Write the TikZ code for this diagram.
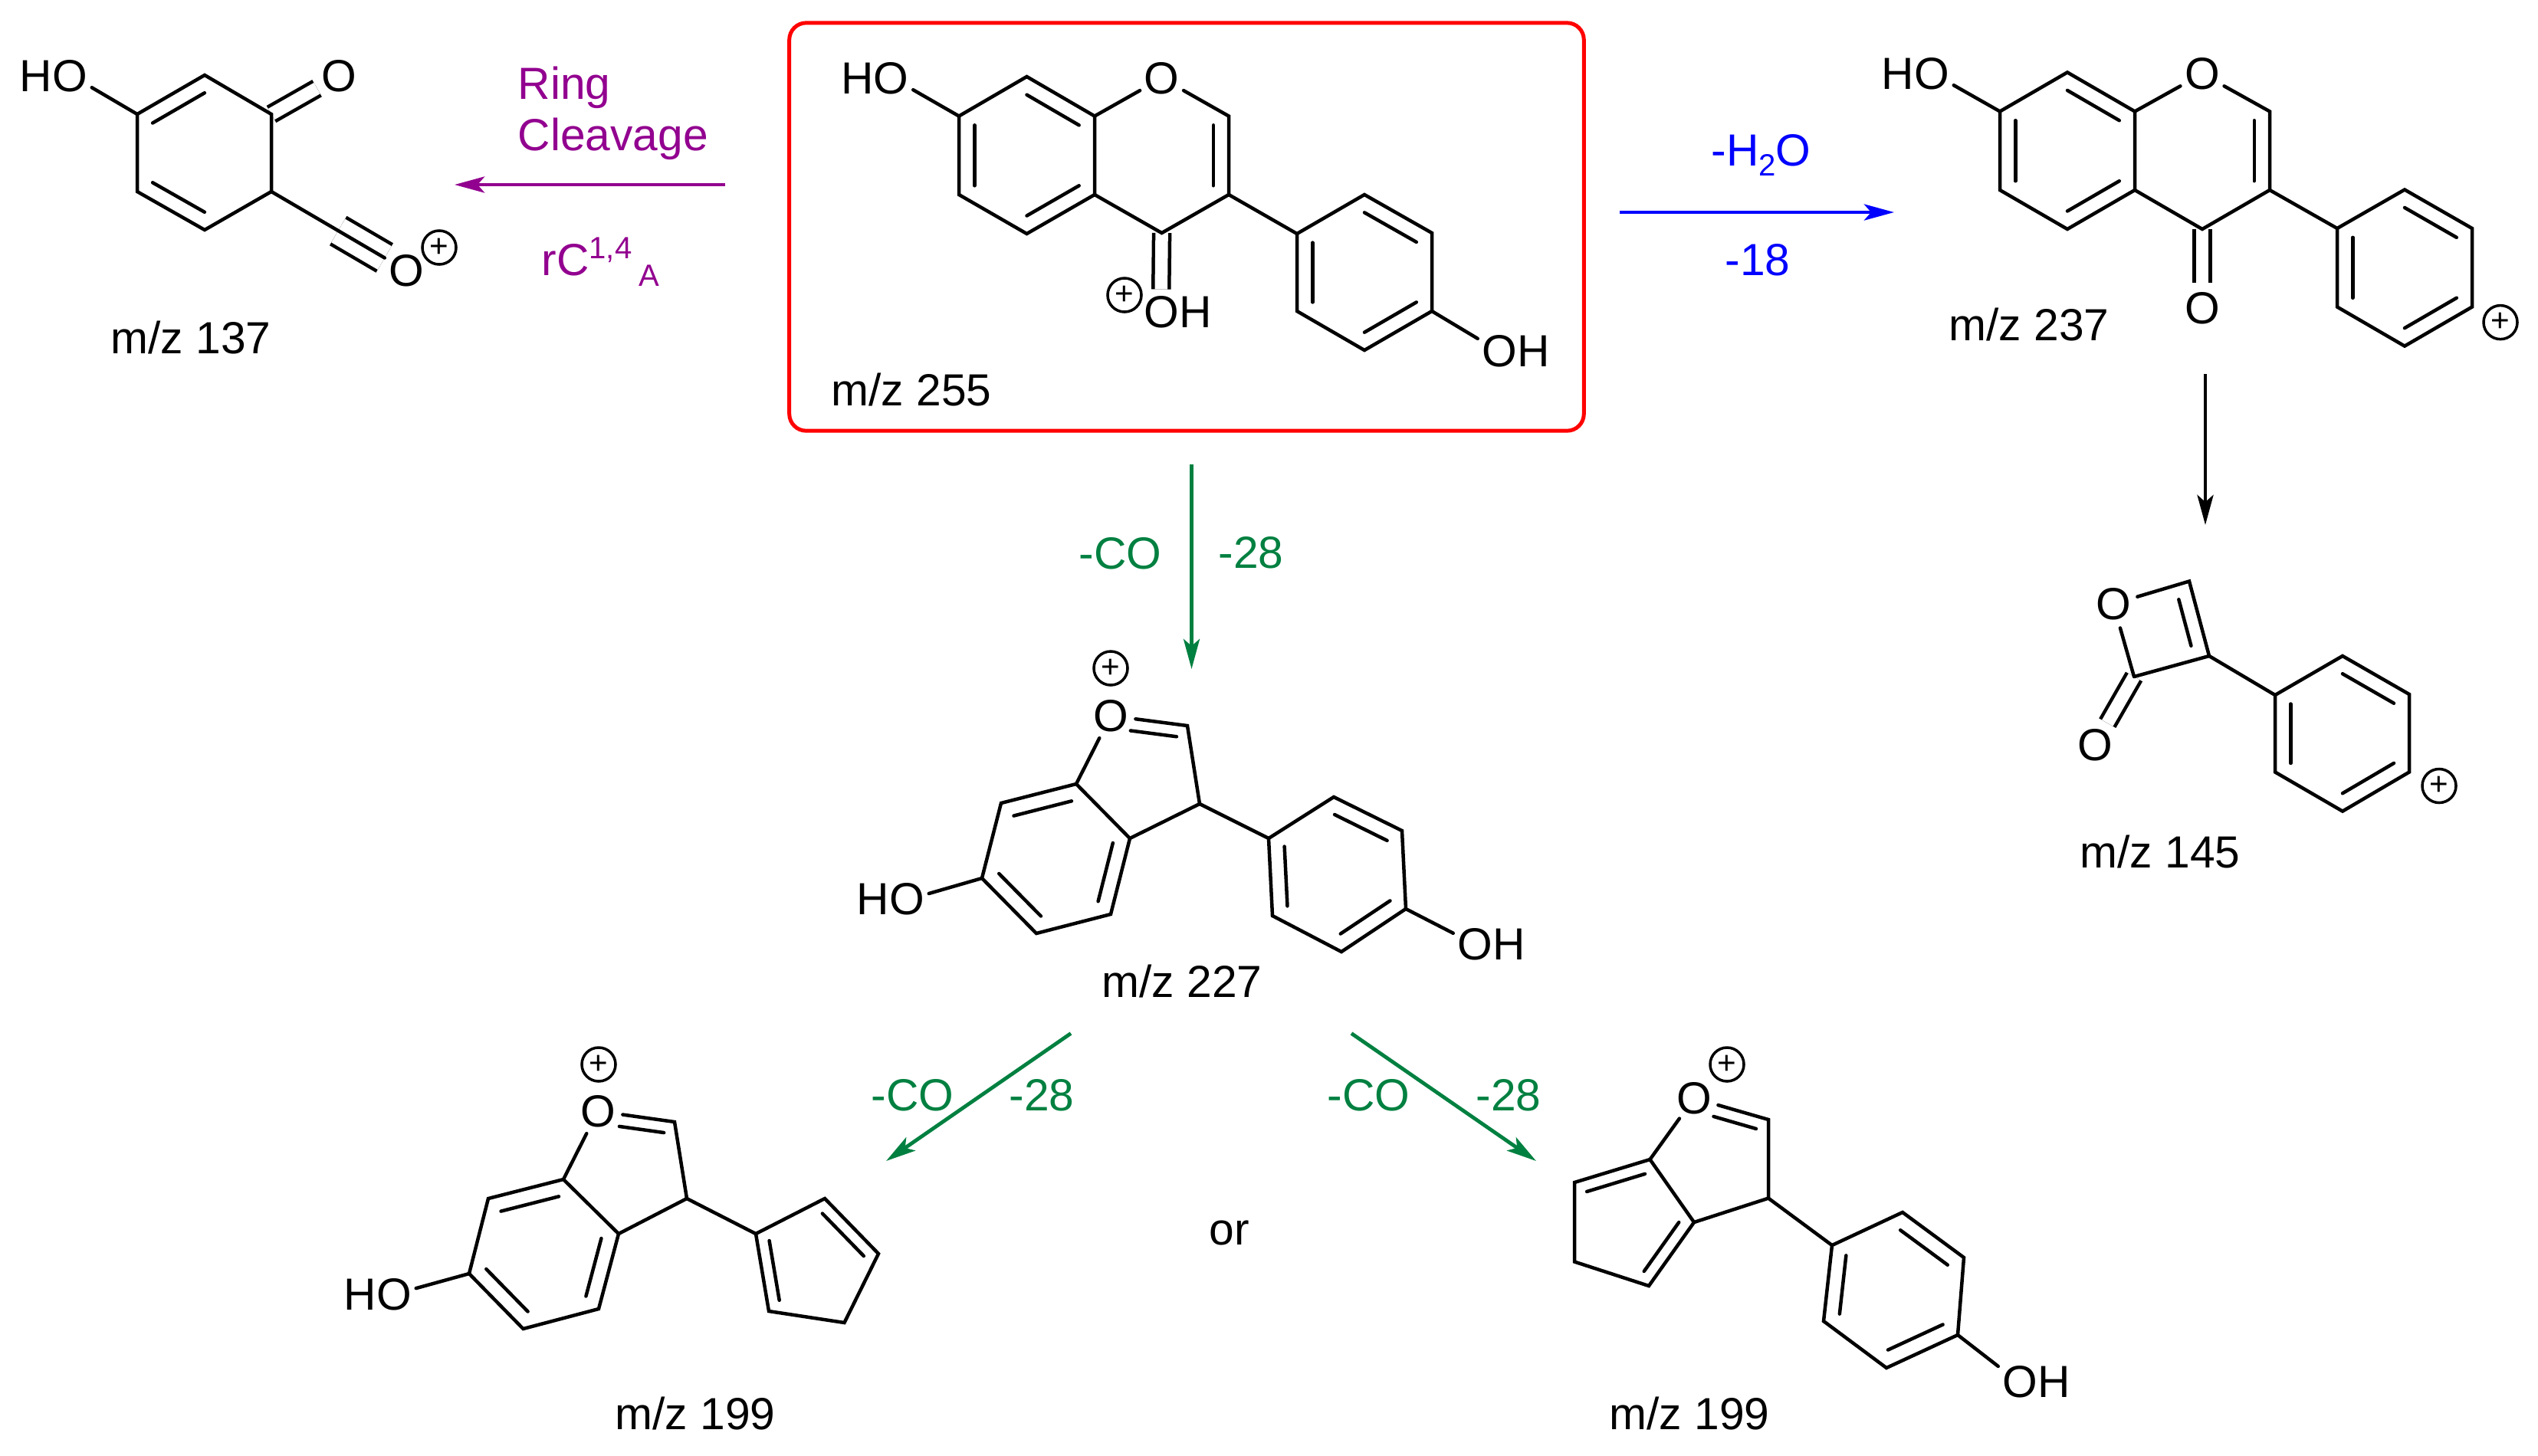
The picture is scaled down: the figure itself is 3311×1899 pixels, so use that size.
\documentclass[tikz,border=0pt]{standalone}
\usepackage{fontspec}
\setmainfont{Liberation Sans}
\usetikzlibrary{calc,arrows.meta}
\definecolor{ringcol}{RGB}{146,0,143}
\definecolor{cogreen}{RGB}{0,128,64}
\tikzset{
  bond/.style={line width=.045cm,line cap=round},
  dbond/.style={bond,line cap=butt,double,double distance=.165cm},
  tbond/.style={bond,line cap=butt,double,double distance=.355cm,shorten <=1.01cm},
  atom/.style={circle,inner sep=0,minimum size=.64cm,font=\fontsize{16.7}{19}\selectfont},
  group/.style={inner xsep=.05cm,inner ysep=.08cm,font=\fontsize{16.7}{19}\selectfont},
  lab/.style={inner sep=0,anchor=base west,font=\fontsize{16.7}{19}\selectfont},
  plus/.style={circle,draw,line width=.035cm,inner sep=0,minimum size=.44cm,font=\fontsize{12}{12}\selectfont},
  arr/.style={line width=.048cm,-{Stealth[length=.39cm,width=.21cm,inset=.09cm]}},
}
\newcommand{\inbond}[3]{\draw[bond] ($(#1)!.77!(#2)$) -- ($(#1)!.77!(#3)$);}
\newcommand{\smalltxt}[2]{\raisebox{#1}{\fontsize{11.4}{13}\selectfont #2}}
\begin{document}
\begin{tikzpicture}[x=.01cm,y=-.01cm]
  \useasboundingbox (0,0) rectangle (3311,1899);

  % Box round the parent ion
  \node[draw=red,line width=.05cm,rounded corners=.22cm,minimum width=10.36cm,minimum height=5.32cm] (box) at (1548,296) {};

  % m/z 255
  \coordinate (p1) at (1251,151.5);
  \coordinate (p2) at (1339.5,100);
  \coordinate (p3) at (1428,151.5);
  \coordinate (p4) at (1428,254);
  \coordinate (p5) at (1339.5,305);
  \coordinate (p6) at (1251,254);
  \coordinate (p7) at (1603,151.5);
  \coordinate (p8) at (1603,254);
  \coordinate (p9) at (1515.6,304);
  \coordinate (p11) at (1692,305);
  \coordinate (p12) at (1780,254);
  \coordinate (p13) at (1868,304);
  \coordinate (p14) at (1868,406);
  \coordinate (p15) at (1780,457);
  \coordinate (p16) at (1692,406);
  \coordinate (pa) at (1339.5,203);
  \coordinate (pb) at (1515.6,203);
  \coordinate (pc) at (1780,355.5);
  \node[atom] (pO) at (1515.6,102) {O};
  \node[group] (pHO) at (1141.5,102) {HO};
  \node[group] (pOH) at (1537,407) {OH};
  \node[group] (pOHb) at (1977.5,458) {OH};
  \node[plus] (pplus) at (1467,385) {+};
  \node[lab] (pmz) at (1084,529) {m/z 255};
  \draw[dbond] (p9) -- (pOH.127);
  \draw[bond] (p1) -- (p2) -- (p3) -- (p4) -- (p5) -- (p6) -- cycle;
  \draw[bond] (p3) -- (pO) -- (p7) -- (p8) -- (p9) -- (p4);
  \draw[bond] (p8) -- (p11);
  \draw[bond] (p11) -- (p12) -- (p13) -- (p14) -- (p15) -- (p16) -- cycle;
  \draw[bond] (p1) -- (pHO.-17);
  \draw[bond] (p14) -- (pOHb.162);
  \inbond{pa}{p1}{p6}
  \inbond{pa}{p2}{p3}
  \inbond{pa}{p4}{p5}
  \inbond{pb}{p7}{p8}
  \inbond{pc}{p11}{p16}
  \inbond{pc}{p12}{p13}
  \inbond{pc}{p14}{p15}

  % m/z 137
  \coordinate (c1) at (179,149);
  \coordinate (c2) at (267,98);
  \coordinate (c3) at (354,149);
  \coordinate (c4) at (354,250);
  \coordinate (c5) at (267,300);
  \coordinate (c6) at (179,250);
  \coordinate (ca) at (266.5,199);
  \node[group] (cHO) at (70,99) {HO};
  \node[atom] (cO) at (442,99) {O};
  \node[atom] (cOb) at (530,353) {O};
  \node[plus] (cplus) at (573,323) {+};
  \node[lab] (cmz) at (144,461) {m/z 137};
  \draw[dbond] (c3) -- (cO);
  \draw[tbond] (c4) -- (cOb);
  \draw[bond] (c4) -- (cOb);
  \draw[bond] (c1) -- (c2) -- (c3) -- (c4) -- (c5) -- (c6) -- cycle;
  \draw[bond] (c1) -- (cHO.-17);
  \inbond{ca}{c1}{c2}
  \inbond{ca}{c5}{c6}

  % m/z 237
  \coordinate (d1) at (2609,145.4);
  \coordinate (d2) at (2697,94.4);
  \coordinate (d3) at (2785,145.4);
  \coordinate (d4) at (2785,248);
  \coordinate (d5) at (2697,299);
  \coordinate (d6) at (2609,248);
  \coordinate (d7) at (2961,145.4);
  \coordinate (d8) at (2961,248);
  \coordinate (d9) at (2873,299);
  \coordinate (d11) at (3049,298);
  \coordinate (d12) at (3137,247.5);
  \coordinate (d13) at (3225,298);
  \coordinate (d14) at (3225,400.5);
  \coordinate (d15) at (3137,451.6);
  \coordinate (d16) at (3049,400.5);
  \coordinate (da) at (2697,196.7);
  \coordinate (db) at (2873,196.7);
  \coordinate (dc) at (3137,349.5);
  \node[atom] (dO) at (2873,96.4) {O};
  \node[atom] (dOb) at (2873,402) {O};
  \node[group] (dHO) at (2499,96) {HO};
  \node[plus] (dplus) at (3262,420.6) {+};
  \node[lab] (dmz) at (2542,444) {m/z 237};
  \draw[dbond] (d9) -- (dOb);
  \draw[bond] (d1) -- (d2) -- (d3) -- (d4) -- (d5) -- (d6) -- cycle;
  \draw[bond] (d3) -- (dO) -- (d7) -- (d8) -- (d9) -- (d4);
  \draw[bond] (d8) -- (d11);
  \draw[bond] (d11) -- (d12) -- (d13) -- (d14) -- (d15) -- (d16) -- cycle;
  \draw[bond] (d1) -- (dHO.-17);
  \inbond{da}{d1}{d6}
  \inbond{da}{d2}{d3}
  \inbond{da}{d4}{d5}
  \inbond{db}{d7}{d8}
  \inbond{dc}{d11}{d16}
  \inbond{dc}{d12}{d13}
  \inbond{dc}{d14}{d15}

  % m/z 145
  \coordinate (f1) at (2856,758.5);
  \coordinate (f2) at (2882,856);
  \coordinate (f3) at (2784,883);
  \coordinate (f11) at (2968,907);
  \coordinate (f12) at (3056,856);
  \coordinate (f13) at (3143,906);
  \coordinate (f14) at (3143,1007.5);
  \coordinate (f15) at (3056,1058.6);
  \coordinate (f16) at (2968,1007.5);
  \coordinate (fa) at (2820,821);
  \coordinate (fc) at (3056,957);
  \node[atom] (fO) at (2757,788) {O};
  \node[atom] (fOb) at (2733,972) {O};
  \node[plus] (fplus) at (3182,1025.5) {+};
  \node[lab] (fmz) at (2713,1132.6) {m/z 145};
  \draw[dbond] (f3) -- (fOb);
  \draw[bond] (f3) -- (fO) -- (f1) -- (f2) -- (f3);
  \draw[bond] (f2) -- (f11);
  \draw[bond] (f11) -- (f12) -- (f13) -- (f14) -- (f15) -- (f16) -- cycle;
  \draw[bond] ($(fa)!.62!(f1)$) -- ($(fa)!.62!(f2)$);
  \inbond{fc}{f11}{f16}
  \inbond{fc}{f12}{f13}
  \inbond{fc}{f14}{f15}

  % m/z 227
  \coordinate (e1) at (1549,947);
  \coordinate (e2) at (1565,1049);
  \coordinate (e3) at (1474,1094);
  \coordinate (e4) at (1404,1023);
  \coordinate (e5) at (1306,1048);
  \coordinate (e6) at (1281,1146);
  \coordinate (e7) at (1352,1218);
  \coordinate (e8) at (1449,1193);
  \coordinate (e11) at (1655,1094);
  \coordinate (e12) at (1740,1040);
  \coordinate (e13) at (1829,1084);
  \coordinate (e14) at (1834,1186);
  \coordinate (e15) at (1750,1242);
  \coordinate (e16) at (1660,1195);
  \coordinate (ea) at (1377.7,1120);
  \coordinate (eb) at (1488,1009);
  \coordinate (ec) at (1744.7,1140);
  \node[atom] (eO) at (1449,934) {O};
  \node[plus] (eplus) at (1449,872) {+};
  \node[group] (eHO) at (1162,1173) {HO};
  \node[group] (eOH) at (1945.5,1232) {OH};
  \node[lab] (emz) at (1437,1301) {m/z 227};
  \draw[bond] (e4) -- (eO) -- (e1) -- (e2) -- (e3);
  \draw[bond] (e3) -- (e4) -- (e5) -- (e6) -- (e7) -- (e8) -- cycle;
  \draw[bond] (e2) -- (e11);
  \draw[bond] (e11) -- (e12) -- (e13) -- (e14) -- (e15) -- (e16) -- cycle;
  \draw[bond] (e6) -- (eHO.8);
  \draw[bond] (e14) -- (eOH.164);
  \draw[bond,shorten <=.17cm] ($(eb)!.77!(eO)$) -- ($(eb)!.77!(e1)$);
  \inbond{ea}{e4}{e5}
  \inbond{ea}{e3}{e8}
  \inbond{ea}{e6}{e7}
  \inbond{ec}{e11}{e16}
  \inbond{ec}{e12}{e13}
  \inbond{ec}{e14}{e15}

  % m/z 199, left
  \coordinate (g1) at (880,1464);
  \coordinate (g2) at (896,1564);
  \coordinate (g3) at (807,1610);
  \coordinate (g4) at (735,1539);
  \coordinate (g5) at (637,1564);
  \coordinate (g6) at (612,1662);
  \coordinate (g7) at (682.5,1734);
  \coordinate (g8) at (781,1708);
  \coordinate (g11) at (986,1610);
  \coordinate (g12) at (1076,1564);
  \coordinate (g13) at (1146,1636);
  \coordinate (g14) at (1101.5,1726);
  \coordinate (g15) at (1003,1711);
  \coordinate (ga) at (709,1636);
  \coordinate (gb) at (819.6,1525);
  \coordinate (gc) at (1062.5,1649);
  \node[atom] (gO) at (780,1450) {O};
  \node[plus] (gplus) at (781,1389) {+};
  \node[group] (gHO) at (493,1689) {HO};
  \node[lab] (gmz) at (802,1865) {m/z 199};
  \draw[bond] (g4) -- (gO) -- (g1) -- (g2) -- (g3);
  \draw[bond] (g3) -- (g4) -- (g5) -- (g6) -- (g7) -- (g8) -- cycle;
  \draw[bond] (g2) -- (g11);
  \draw[bond] (g11) -- (g12) -- (g13) -- (g14) -- (g15) -- cycle;
  \draw[bond] (g6) -- (gHO.9);
  \draw[bond,shorten <=.19cm] ($(gb)!.77!(gO)$) -- ($(gb)!.77!(g1)$);
  \inbond{ga}{g4}{g5}
  \inbond{ga}{g3}{g8}
  \inbond{ga}{g6}{g7}
  \inbond{gc}{g11}{g15}
  \inbond{gc}{g12}{g13}

  % m/z 199, right
  \coordinate (h1) at (2307,1461);
  \coordinate (h2) at (2307,1563.6);
  \coordinate (h3) at (2210,1595);
  \coordinate (h4) at (2152.5,1513);
  \coordinate (h5) at (2054,1543);
  \coordinate (h6) at (2054,1646.5);
  \coordinate (h7) at (2151,1678);
  \coordinate (h11) at (2390,1625);
  \coordinate (h12) at (2482,1582);
  \coordinate (h13) at (2562,1641);
  \coordinate (h14) at (2554,1742);
  \coordinate (h15) at (2461,1785);
  \coordinate (h16) at (2379,1724);
  \coordinate (ha) at (2124,1595);
  \coordinate (hb) at (2237.3,1513);
  \coordinate (hc) at (2469.7,1683);
  \node[atom] (hO) at (2210,1433) {O};
  \node[plus] (hplus) at (2253,1389) {+};
  \node[group] (hOH) at (2656.5,1803) {OH};
  \node[lab] (hmz) at (2099,1865) {m/z 199};
  \draw[bond] (h4) -- (hO) -- (h1) -- (h2) -- (h3);
  \draw[bond] (h3) -- (h4) -- (h5) -- (h6) -- (h7) -- cycle;
  \draw[bond] (h2) -- (h11);
  \draw[bond] (h11) -- (h12) -- (h13) -- (h14) -- (h15) -- (h16) -- cycle;
  \draw[bond] (h14) -- (hOH.158);
  \draw[bond,shorten <=.2cm] ($(hb)!.77!(hO)$) -- ($(hb)!.77!(h1)$);
  \inbond{ha}{h4}{h5}
  \inbond{ha}{h3}{h7}
  \inbond{hc}{h11}{h16}
  \inbond{hc}{h12}{h13}
  \inbond{hc}{h14}{h15}

  \node[lab,anchor=base] (ortxt) at (1604,1624) {or};

  % Arrows
  \coordinate (r1a) at (946,241);
  \coordinate (r1b) at (593,241);
  \coordinate (r2a) at (2113,277);
  \coordinate (r2b) at (2471,277);
  \coordinate (r3a) at (2877,488);
  \coordinate (r3b) at (2877,685);
  \coordinate (r4a) at (1554.5,606);
  \coordinate (r4b) at (1554.5,873);
  \coordinate (r5a) at (1397,1348.5);
  \coordinate (r5b) at (1156,1515);
  \coordinate (r6a) at (1763,1348.5);
  \coordinate (r6b) at (2004,1515);
  \draw[arr,ringcol] (r1a) -- (r1b);
  \draw[arr,blue] (r2a) -- (r2b);
  \draw[arr] (r3a) -- (r3b);
  \draw[arr,cogreen] (r4a) -- (r4b);
  \draw[arr,cogreen] (r5a) -- (r5b);
  \draw[arr,cogreen] (r6a) -- (r6b);

  % Arrow labels
  \node[lab,ringcol,align=left] (ringtxt) at (675,196) {Ring\\[0pt]Cleavage};
  \node[lab,ringcol] (rctxt) at (706,359) {rC\smalltxt{.22cm}{1,4}\kern.09cm\smalltxt{-.14cm}{A}};
  \node[lab,blue] (watertxt) at (2232,216) {-H\smalltxt{-.13cm}{2}O};
  \node[lab,blue] (waternum) at (2250,359.6) {-18};
  \node[lab,cogreen] (cotxta) at (1407,742) {-CO};
  \node[lab,cogreen] (conuma) at (1589,741) {-28};
  \node[lab,cogreen] (cotxtb) at (1136,1449) {-CO};
  \node[lab,cogreen] (conumb) at (1316,1449) {-28};
  \node[lab,cogreen] (cotxtc) at (1731,1449) {-CO};
  \node[lab,cogreen] (conumc) at (1925,1449) {-28};
\end{tikzpicture}
\end{document}
